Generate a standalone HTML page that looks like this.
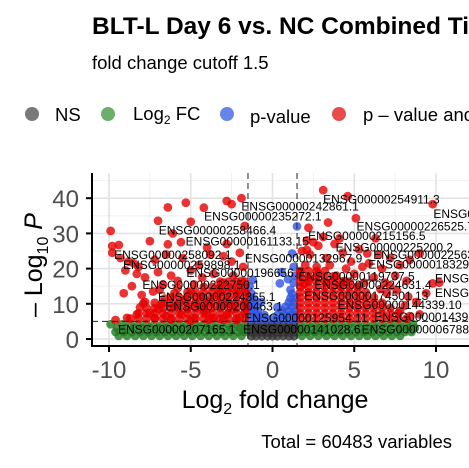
<!DOCTYPE html>
<html><head><meta charset="utf-8"><style>
html,body{margin:0;padding:0;background:#fff;}
svg{display:block;font-family:"Liberation Sans",Arial,sans-serif;}
</style></head><body>
<svg id="chart" width="469" height="468" viewBox="0 0 469 468">
<text x="92" y="34" font-size="24.5" font-weight="bold" fill="#000">BLT-L Day 6 vs. NC Combined Timepoints</text>
<text x="92" y="69" font-size="18.5" fill="#000">fold change cutoff 1.5</text>
<g>
<g><circle cx="32" cy="114" r="7" fill="#404040" opacity="0.7"/><text x="55" y="121" font-size="18.5">NS</text></g>
<g><circle cx="108" cy="114" r="7" fill="#2e8b2e" opacity="0.7"/><text x="133" y="120" font-size="18.5">Log<tspan font-size="12" dy="4">2</tspan><tspan dy="-4"> FC</tspan></text></g>
<g><circle cx="227" cy="114" r="7" fill="#2850e0" opacity="0.7"/><text x="250" y="123" font-size="18.5">p-value</text></g>
<g><circle cx="339" cy="114" r="7" fill="#e00000" opacity="0.7"/><text x="363" y="121" font-size="18.5">p – value and log<tspan font-size="12" dy="4">2</tspan><tspan dy="-4"> FC</tspan></text></g>
</g>
<defs><clipPath id="pc"><rect x="92" y="173" width="377" height="173"/></clipPath></defs>
<g id="grid"></g>
<g id="pts" clip-path="url(#pc)"></g>
<g id="cut" clip-path="url(#pc)"></g>
<g id="labs" clip-path="url(#pc)"></g>
<g id="axes"></g>
<text x="275" y="408" font-size="25" text-anchor="middle" fill="#000">Log<tspan font-size="16" dy="6">2</tspan><tspan dy="-6"> fold change</tspan></text>
<text transform="translate(42,265) rotate(-90)" font-size="25" text-anchor="middle" fill="#000">– Log<tspan font-size="16" dy="6">10</tspan><tspan dy="-6" font-style="italic"> P</tspan></text>
<text x="452" y="448" font-size="18.5" text-anchor="end" fill="#000">Total = 60483 variables</text>
</svg>
<script>
const xTicks=[-10,-5,0,5,10];
const yTicks=[0,10,20,30,40];
const xCut=[-1.5,1.5];
const yCut=[5];
const redPts=[[3.1,42.3],[9.8,38.3],[-1.9,40],[-2.8,39.2],[-2.5,38.3],[-5.3,38.7],[-6.4,37.4],[-4.2,37.3],[4.6,40.6],[3.4,33.1],[5.1,34.3],[-7,33.6],[-5,33.3],[-9.9,30.7],[-6.1,30],[2.2,31.6],[-1.7,32.1],[-7.5,27.8],[-6.4,26.9],[-5.6,27.5],[-9.8,26.4],[-9.4,26.7],[2.1,25.3],
[-9.8,24.5],[-9.3,23],[-8.8,22],[-8.5,21.5],[-8.2,20.5],[-7.2,22.5],[-6.5,24],[-5.5,23],[-4.5,21],[-3.8,24],[-3,23.5],[-2.5,22],[-2,24.5],[-1.8,20.5],[-4,26],[-2.8,27],
[-9,19.5],[-8.3,18.5],[-7.8,17.5],[-7,19],[-6.2,18],[-5.8,16.5],[-5,19.5],[-4.3,17.5],[-3.6,18.5],[-3,16],[-2.4,18],[-1.9,16.5],[-6.7,15.5],[-8.6,15],[-4.8,15.5],[-3.3,14.5],[-2,14],
[-9.1,13],[-8,12.5],[-7.3,13.5],[-6.6,11.5],[-6,13],[-5.4,11],[-5,13.5],[-4.4,12],[-3.9,10.5],[-3.4,12.5],[-2.8,11],[-2.2,12.5],[-1.7,10.5],[-7.8,10.5],[-6.9,14],[-4.7,10],[-2.5,14.5],[-1.6,13],[-3.1,13.5],[-5.8,14.5],[-7.9,10.1],
[-9.6,5.4],[-8.9,6],[-8.3,7],[-7.5,7.3],[-7,8.5],[-6.5,6.5],[-6,9],[-5.6,7],[-5.2,8.5],[-4.8,6],[-4.4,9],[-4,7.5],[-3.6,6],[-3.2,9.5],[-2.8,7],[-2.4,8.5],[-2,6],[-1.7,7.5],[-1.6,9],[-8.1,9],[-7.2,6],[-6.2,5.5],[-5,5.2],[-3.9,5.5],[-3,5.5],[-2.2,5.3],[-6.8,9.8],[-5.8,10],[-4.2,8],[-2.6,10],
[1.8,25],[2.3,24],[2.8,26.5],[3.3,23],[3.8,27],[4.3,24.5],[4.8,22],[5.3,25.5],[5.9,21.5],[6.5,24],[7.2,23],[7.8,21],[8.4,22.5],[9,24.3],[2,21],[2.7,20.5],[3.5,21],[4.5,20],[5.5,20.5],[6.7,20],[2.1,28],[3.1,29],[4.1,28.6],[6.3,28.6],[5.8,24.3],[2.5,27.5],
[1.7,19],[2.2,17],[2.8,18.5],[3.3,16],[3.9,18],[4.4,16.5],[5,18.5],[5.6,16],[6.2,17.5],[6.9,16],[7.5,18],[8.2,16.5],[9.8,15.8],[10.2,16],[1.9,15.5],[4.1,15.2],[5.3,15],[7.2,15],
[8.3,12],[8.8,10.5],[9.4,13],[6.6,14.2],[7.6,13.8],[7,13],[8.4,6.5],[9,7],[8.1,9.5],[7.8,8]];
const redRowY=[5.8,7.3,8.8,10.3,11.8,13.3,14.8,16.3,17.8,19.3];
const redRowX=[
[-8.7,-8.2,-7.7,-7.2,-6.7,-6.2,-5.7,-5.2,-4.7,-4.2,-3.7,-3.2,-2.7,-2.2,-1.7,1.7,2.2,2.7,3.2,3.7,4.2,4.7,5.2,5.7,6.2,6.7,7.2,7.7,8.2],
[-8.2,-7.7,-7.2,-6.7,-6.2,-5.7,-5.2,-4.7,-4.2,-3.7,-3.2,-2.7,-2.2,-1.7,1.7,2.2,2.7,3.2,3.7,4.2,4.7,5.2,5.7,6.2,6.7,7.2,7.7],
[-7.7,-7.2,-6.7,-6.2,-5.7,-5.2,-4.7,-4.2,-3.7,-3.2,-2.7,-2.2,-1.7,1.7,2.2,2.7,3.2,3.7,4.2,4.7,5.2,5.7,6.2,6.7,7.2],
[-7.2,-6.7,-6.2,-5.7,-5.2,-4.7,-4.2,-3.7,-3.2,-2.7,-2.2,-1.7,1.7,2.2,2.7,3.2,3.7,4.2,4.7,5.2,5.7,6.2,6.7],
[-6.2,-5.7,-5.2,-4.7,-4.2,-3.7,-3.2,-2.7,-2.2,-1.7,1.7,2.2,2.7,3.2,3.7,4.2,4.7,5.2,5.7,6.2],
[-5.2,-4.7,-4.2,-3.7,-3.2,-2.7,-2.2,-1.7,1.7,2.2,2.7,3.2,3.7,4.2,4.7,5.2,5.7],
[-4.2,-3.7,-3.2,-2.7,-2.2,-1.7,1.7,2.2,2.7,3.2,3.7,4.2,4.7,5.2],
[-3.2,-2.7,-2.2,-1.7,1.7,2.2,2.7,3.2,3.7,4.2,4.7],
[1.7,2.2,2.7,3.2,3.7],
[1.7,2.2,2.7,3.2]];
const bluePts=[[-1.4,15],[-1.2,16.8],[-1.3,13],[-1.1,11],[-1.4,10],[1.1,14],[1.3,16],[1.4,18],[0.45,15.8],[0.55,19],[1.2,24.3],[1.5,32],[1.3,20.5],[0.95,17],[-0.7,10.5],[0.3,9]];
const blueRowY=[5.6,6.8,8.0,9.2,10.4,11.6,12.8];
const blueRowX=[
[-1.3,-0.9,-0.5,-0.1,0.3,0.7,1.1,1.4],
[-1.3,-0.9,-0.5,0.3,0.7,1.1,1.4],
[-1.3,-0.9,0.6,1.0,1.4],
[-1.3,-1.0,0.8,1.2],
[-1.3,1.0,1.3],
[-1.3,1.1,1.4],
[1.2]];
const grayRowY=[0.8,1.9,3.0,4.1];
const grayRowX=[[-1.3,-1,-0.65,-0.3,0,0.3,0.65,1,1.3],[-1.3,-1,-0.65,-0.3,0,0.3,0.65,1,1.3],[-1.3,-1,-0.65,-0.3,0,0.3,0.65,1,1.3],[-1.3,-1,-0.65,-0.3,0,0.3,0.65,1,1.3]];
const greenRowY=[0.9,2.0,3.1,4.2];
const greenRowX=[
[-9.4,-8.9,-8.4,-7.9,-7.4,-6.9,-6.4,-5.9,-5.4,-4.9,-4.4,-3.9,-3.4,-2.9,-2.4,-1.9,1.8,2.3,2.8,3.3,3.8,4.3,4.8,5.3,5.8,6.3,6.8,7.3,7.8],
[-9.6,-9.1,-8.6,-8.1,-7.6,-7.1,-6.6,-6.1,-5.6,-5.1,-4.6,-4.1,-3.6,-3.1,-2.6,-2.1,-1.7,1.7,2.1,2.6,3.1,3.6,4.1,4.6,5.1,5.6,6.1,6.6,7.1,7.6,8.1,8.5],
[-9.5,-9,-8.5,-8,-7.5,-7,-6.5,-6,-5.5,-5,-4.5,-4,-3.5,-3,-2.5,-2,-1.7,1.8,2.3,2.8,3.3,3.8,4.3,4.8,5.3,5.8,6.3,6.8,7.3,7.8,8.3,8.7],
[-9.9,-9.2,-8.7,-8.2,-7.7,-7.2,-6.7,-6.2,-5.7,-5.2,-4.7,-4.2,-3.7,-3.2,-2.7,-2.2,-1.7,1.7,2.2,2.7,3.2,3.7,4.2,4.7,5.2,5.7,6.2,6.7,7.2,7.7,8.2,8.6]];
const labelText=["ENSG00000254911.3","ENSG00000242861.1","ENSG00000232116.1","ENSG00000235272.1","ENSG00000226525.7","ENSG00000258466.4","ENSG00000215156.5","ENSG00000161133.15","ENSG00000225200.2","ENSG00000258092.1","ENSG00000132967.9","ENSG00000225630.1","ENSG00000259898.1","ENSG00000183291.3","ENSG00000196656.7","ENSG00000119737.5","ENSG00000211459.2","ENSG00000222750.1","ENSG00000224631.4","ENSG00000198712.1","ENSG00000224365.1","ENSG00000174501.13","ENSG00000200463.1","ENSG00000144339.10","ENSG00000143933.2","ENSG00000125954.11","ENSG00000207165.1","ENSG00000141028.6","ENSG00000006788.2"];
const labelX=[3.1,-1.9,9.84,-4.18,5.14,-6.96,2.18,-5.31,3.86,-9.69,-1.69,6.16,-9.14,5.86,-5.27,1.57,9.94,-7.96,2.55,9.94,-7.0,1.94,-6.55,3.98,6.22,-1.73,-9.45,-1.8,5.45];
const labelY=[39.7,37.6,35.5,34.8,31.9,30.8,29.3,27.7,26.0,23.9,22.9,23.9,21.0,21.2,18.7,17.7,17.2,15.3,15.3,13.0,12.0,12.2,9.2,9.7,6.3,5.9,2.7,2.7,2.7];

const NS='http://www.w3.org/2000/svg';
const X=v=>272.5+16.35*v, Y=v=>339-3.52*v;
function mk(tag,attrs,parent){const e=document.createElementNS(NS,tag);for(const k in attrs)e.setAttribute(k,attrs[k]);parent.appendChild(e);return e;}
const grid=document.getElementById('grid');
[-7.5,-2.5,2.5,7.5].forEach(v=>{const l=mk('line',{x1:X(v),x2:X(v),y1:173,y2:346,stroke:'#ededed','stroke-width':0.8},grid);

});
[5,15,25,35,45].forEach(v=>{const l=mk('line',{x1:92,x2:469,y1:Y(v),y2:Y(v),stroke:'#ededed','stroke-width':0.8},grid);

});
xTicks.forEach(v=>{const l=mk('line',{x1:X(v),x2:X(v),y1:173,y2:346,stroke:'#e3e3e3','stroke-width':1.6},grid);

});
yTicks.forEach(v=>{const l=mk('line',{x1:92,x2:469,y1:Y(v),y2:Y(v),stroke:'#e3e3e3','stroke-width':1.6},grid);

});
const pts=document.getElementById('pts');
function dot(x,y,col,name){const c=mk('circle',{cx:X(x),cy:Y(y),r:4.4,fill:col,'fill-opacity':0.8},pts);

}
greenRowY.forEach((y,i)=>greenRowX[i].forEach(x=>dot(x,y,'#1f7a1f','point-log2fc')));
grayRowY.forEach((y,i)=>grayRowX[i].forEach(x=>dot(x,y,'#333333','point-ns')));
blueRowY.forEach((y,i)=>blueRowX[i].forEach(x=>dot(x,y,'#2f55e0','point-pvalue')));
bluePts.forEach(p=>dot(p[0],p[1],'#2f55e0','point-pvalue'));
redRowY.forEach((y,i)=>redRowX[i].forEach(x=>dot(x,y,'#e60000','point-pvalue-and-fc')));
redPts.forEach(p=>dot(p[0],p[1],'#e60000','point-pvalue-and-fc'));
const cut=document.getElementById('cut');
xCut.forEach(v=>{const l=mk('line',{x1:X(v),x2:X(v),y1:173,y2:346,stroke:'#222','stroke-width':1,'stroke-dasharray':'6,4'},cut);

});
yCut.forEach(v=>{const l=mk('line',{x1:92,x2:469,y1:Y(v),y2:Y(v),stroke:'#222','stroke-width':1,'stroke-dasharray':'6,4'},cut);

});
const labs=document.getElementById('labs');
labelText.forEach((t,i)=>{const e=mk('text',{x:X(labelX[i]),y:Y(labelY[i])+4,'font-size':12,fill:'#000'},labs);e.textContent=t;

});
const axes=document.getElementById('axes');
const la=mk('line',{x1:92,x2:92,y1:173,y2:347,stroke:'#000','stroke-width':2},axes);


const lb=mk('line',{x1:91,x2:469,y1:346,y2:346,stroke:'#000','stroke-width':2},axes);


xTicks.forEach(v=>{const t=mk('line',{x1:X(v),x2:X(v),y1:346,y2:352,stroke:'#000','stroke-width':2},axes);


const s=mk('text',{x:X(v),y:378,'font-size':24,'text-anchor':'middle',fill:'#4d4d4d'},axes);s.textContent=v;

});
yTicks.forEach(v=>{const t=mk('line',{x1:86,x2:92,y1:Y(v),y2:Y(v),stroke:'#000','stroke-width':2},axes);


const s=mk('text',{x:79,y:Y(v)+9,'font-size':24,'text-anchor':'end',fill:'#4d4d4d'},axes);s.textContent=v;

});
</script>
</body></html>
